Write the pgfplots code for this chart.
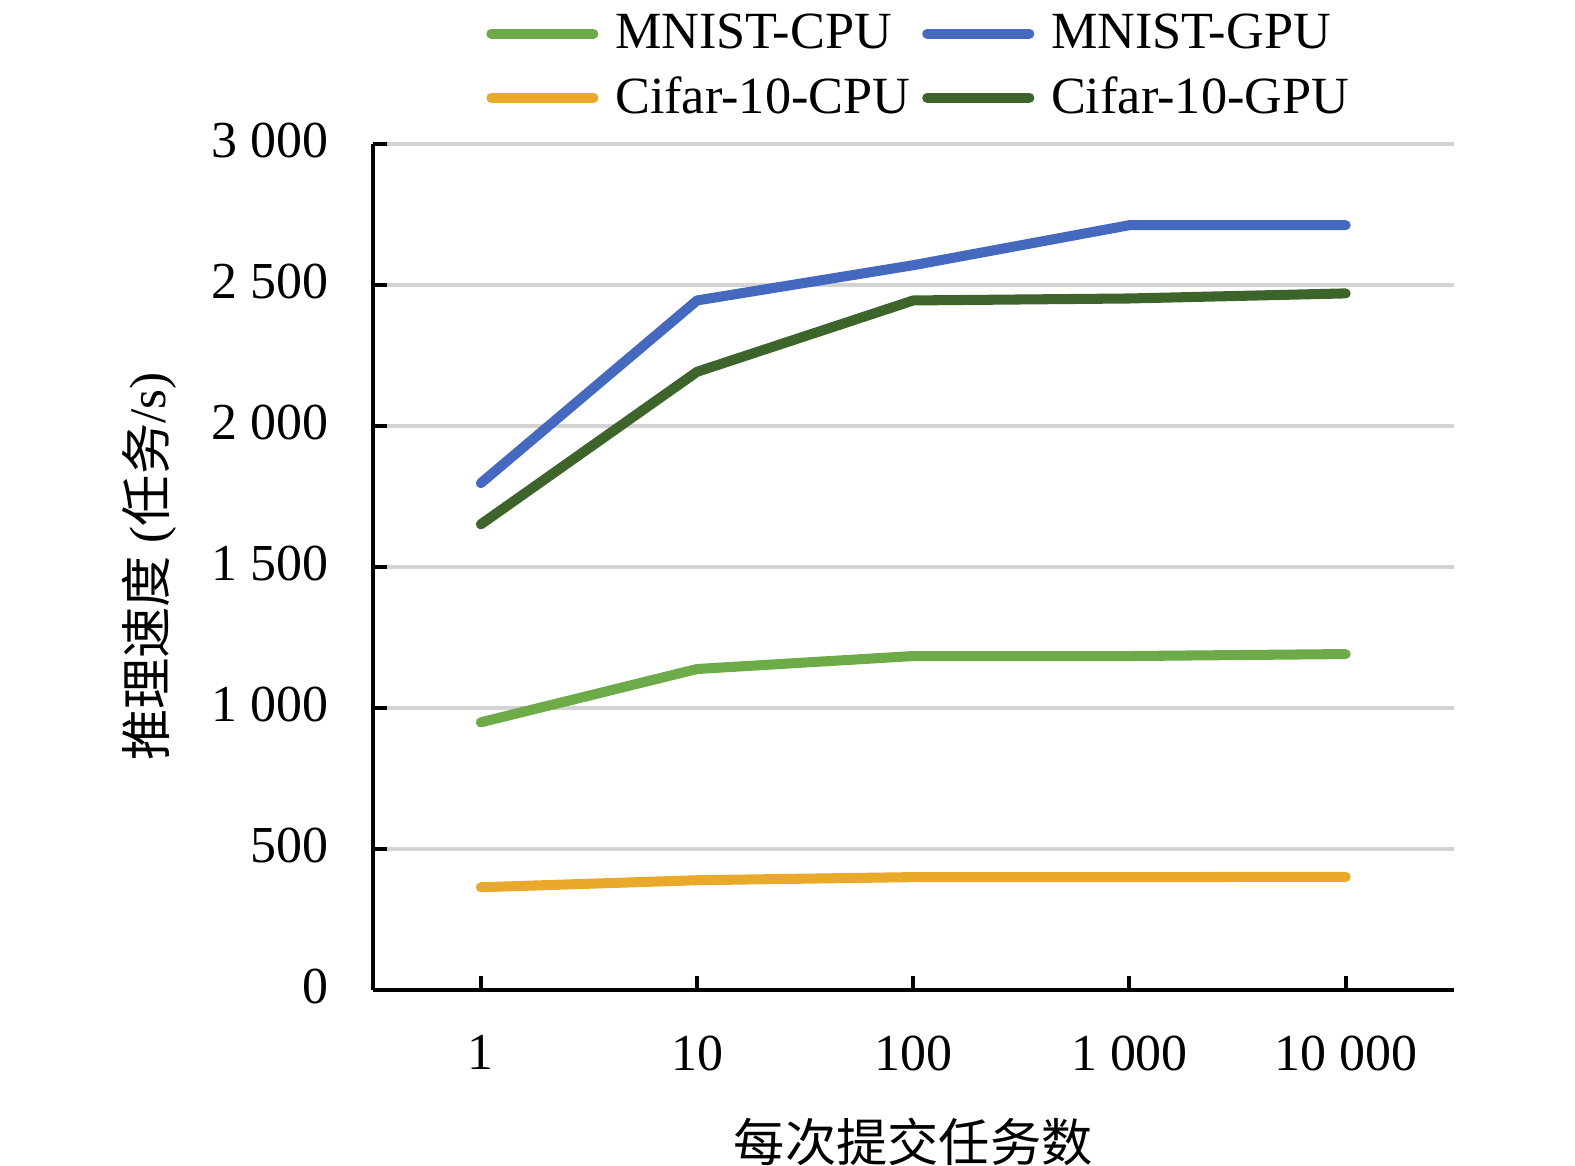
\documentclass[border=0pt]{standalone}
\usepackage{fontspec}
\setmainfont{Liberation Serif}
\newfontfamily\cjk{Noto Sans CJK SC}
\usepackage{pgfplots}
\pgfplotsset{compat=1.18}
\definecolor{cmc}{HTML}{6DAB48}
\definecolor{cmg}{HTML}{4569BF}
\definecolor{ccc}{HTML}{E9A92B}
\definecolor{ccg}{HTML}{3D652B}
\definecolor{gridc}{HTML}{D3D3D3}
\begin{document}
\begin{tikzpicture}
\begin{axis}[
  scale only axis,
  width=322.8bp, height=252.6bp,
  xmin=-0.5, xmax=4.5, ymin=0, ymax=3000,
  axis x line*=bottom, axis y line*=left,
  axis line style={-, draw=black, line width=1.2bp},
  xtick={0,1,2,3,4},
  xticklabels={1,10,100,1\ 000,10\ 000},
  ytick={0,500,1000,1500,2000,2500,3000},
  yticklabels={0,500,1\ 000,1\ 500,2\ 000,2\ 500,3\ 000},
  tick align=inside,
  major tick length=4.2bp,
  tick style={black, line width=1.2bp},
  ymajorgrids,
  grid style={gridc, line width=1.2bp},
  tick label style={font=\fontsize{15.5bp}{18bp}\selectfont},
  yticklabel style={inner sep=0pt, anchor=east, xshift=-13bp, yshift=0.8bp},
  xticklabel style={inner sep=0pt, anchor=north, yshift=-13.5bp},
  label style={font=\fontsize{15.3bp}{18bp}\selectfont},
  xlabel={{\cjk 每次提交任务数}},
  ylabel={{\cjk 推理速度} ({\cjk 任务}/s)},
  xlabel style={at={(axis description cs:0.5,-0.18)}, anchor=center},
  ylabel style={at={(axis description cs:-0.207,0.5)}, anchor=center, rotate=0},
  legend columns=2,
  legend cell align=left,
  legend style={draw=none, fill=none, at={(axis description cs:0.5,1)}, anchor=south, xshift=2.3bp, yshift=3.3bp,
    font=\fontsize{15.6bp}{18bp}\selectfont, row sep=3bp,
    /tikz/every odd column/.append style={column sep=3bp},
    /tikz/every even column/.append style={column sep=1.6bp}},
  legend image code/.code={\draw[#1, line width=3bp, line cap=round] (0bp,0bp) -- (30.5bp,0bp);},
  every axis plot/.append style={line width=3bp, line cap=round, line join=round},
  clip=false,
]
\addplot[cmc] coordinates {(0,948) (1,1137) (2,1183) (3,1183) (4,1190)};
\addlegendentry{MNIST-CPU}
\addplot[cmg] coordinates {(0,1796) (1,2444) (2,2569) (3,2711) (4,2711)};
\addlegendentry{MNIST-GPU}
\addplot[ccc] coordinates {(0,363) (1,388) (2,399) (3,399) (4,400)};
\addlegendentry{Cifar-10-CPU}
\addplot[ccg] coordinates {(0,1650) (1,2191) (2,2444) (3,2451) (4,2469)};
\addlegendentry{Cifar-10-GPU}
\end{axis}
\pgfresetboundingbox
\path[use as bounding box] ([xshift=-111.3bp,yshift=-52.6bp]current axis.south west) rectangle ([xshift=36.2bp,yshift=42.9bp]current axis.north east);
\end{tikzpicture}
\end{document}
